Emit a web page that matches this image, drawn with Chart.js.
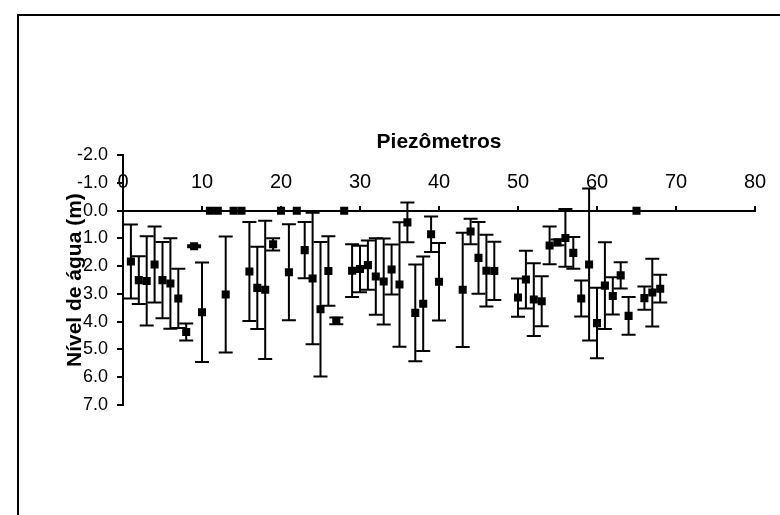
<!DOCTYPE html>
<html>
<head>
<meta charset="utf-8">
<script src="https://cdn.jsdelivr.net/npm/chart.js@4.4.1/dist/chart.umd.min.js"></script>
<style>
  html, body { margin: 0; padding: 0; background: #fff; }
</style>
</head>
<body>
<canvas id="levelChart" width="780" height="515"></canvas>
<script>
  // piezometer number, mean water level (m) and +/- deviation (m)
  const piezometers = [1, 2, 3, 4, 5, 6, 7, 8, 9, 10, 11, 12, 13, 14, 15, 16, 17, 18, 19, 20,
    21, 22, 23, 24, 25, 26, 27, 28, 29, 30, 31, 32, 33, 34, 35, 36, 37, 38, 39, 40,
    43, 44, 45, 46, 47, 50, 51, 52, 53, 54, 55, 56, 57, 58, 59, 60, 61, 62, 63, 64,
    65, 66, 67, 68];
  const levels = [1.83, 2.50, 2.53, 1.94, 2.50, 2.62, 3.16, 4.37, 1.28, 3.66, 0, 0, 3.02, 0, 0, 2.19, 2.78, 2.85, 1.21, 0,
    2.22, 0, 1.42, 2.44, 3.55, 2.17, 3.97, 0, 2.16, 2.10, 1.96, 2.37, 2.55, 2.12, 2.66, 0.42, 3.68, 3.35, 0.85, 2.56,
    2.85, 0.75, 1.70, 2.16, 2.17, 3.13, 2.48, 3.20, 3.26, 1.25, 1.14, 0.98, 1.52, 3.16, 1.94, 4.05, 2.70, 3.07, 2.33, 3.79,
    0, 3.15, 2.95, 2.81];
  const deviations = [1.33, 0.86, 1.61, 1.37, 1.37, 1.63, 1.07, 0.31, 0.04, 1.79, 0, 0, 2.09, 0, 0, 1.78, 1.48, 2.49, 0.22, 0,
    1.73, 0, 1.01, 2.37, 2.42, 1.25, 0.12, 0, 0.95, 0.84, 0.89, 1.38, 1.55, 0.90, 2.24, 0.72, 1.74, 1.70, 0.64, 1.40,
    2.06, 0.46, 1.29, 1.29, 1.05, 0.69, 1.04, 1.31, 0.90, 0.68, 0.10, 1.04, 0.57, 0.65, 2.74, 1.27, 1.56, 0.67, 0.47, 0.68,
    0, 0.42, 1.22, 0.50];

  Chart.defaults.font.family = '"Liberation Sans", Arial, sans-serif';
  Chart.defaults.color = '#000';

  // vertical error bars with caps
  const errorBars = {
    id: 'errorBars',
    beforeDatasetsDraw(chart) {
      const { ctx, scales: { x, y } } = chart;
      ctx.save();
      ctx.strokeStyle = '#000';
      ctx.lineWidth = 2;
      piezometers.forEach((p, i) => {
        if (!deviations[i]) return;
        const px = x.getPixelForValue(p);
        const top = y.getPixelForValue(levels[i] - deviations[i]);
        const bot = y.getPixelForValue(levels[i] + deviations[i]);
        ctx.beginPath();
        ctx.moveTo(px, top); ctx.lineTo(px, bot);
        ctx.moveTo(px - 7, top); ctx.lineTo(px + 7, top);
        ctx.moveTo(px - 7, bot); ctx.lineTo(px + 7, bot);
        ctx.stroke();
      });
      ctx.restore();
    }
  };

  // outer frame of the chart
  const frame = {
    id: 'frame',
    afterDraw(chart) {
      const ctx = chart.ctx;
      ctx.save();
      ctx.strokeStyle = '#000';
      ctx.lineWidth = 2;
      ctx.strokeRect(18, 15, 800, 600);
      ctx.restore();
    }
  };

  const ctx = document.getElementById('levelChart').getContext('2d');
  const levelChart = new Chart(ctx, {
    type: 'scatter',
    data: {
      datasets: [{
        data: piezometers.map((p, i) => ({ x: p, y: levels[i] })),
        pointStyle: 'rect',
        pointRadius: 5.7,
        pointHoverRadius: 5.7,
        backgroundColor: '#000',
        borderColor: '#000',
        borderWidth: 0
      }]
    },
    options: {
      responsive: false,
      animation: false,
      layout: { padding: { left: 59, right: 25, top: 126, bottom: 110 } },
      plugins: {
        legend: { display: false },
        tooltip: { enabled: false },
        title: {
          display: true,
          text: 'Piezômetros',
          fullSize: false,
          font: { size: 21, weight: 'bold' },
          padding: { top: 4, bottom: 0 }
        }
      },
      scales: {
        x: {
          type: 'linear',
          position: { y: 0 },
          min: 0,
          max: 80,
          ticks: { stepSize: 10, font: { size: 20 }, padding: -34, maxRotation: 0 },
          grid: { drawOnChartArea: false, tickLength: -6, color: '#000', lineWidth: 2 },
          border: { color: '#000', width: 2 }
        },
        y: {
          position: 'left',
          reverse: true,
          min: -2,
          max: 7,
          afterFit: (scale) => { scale.width = 64; },
          ticks: { stepSize: 1, font: { size: 18 }, padding: 9, callback: (v) => v.toFixed(1) },
          grid: { drawOnChartArea: false, tickLength: 6, color: '#000', lineWidth: 2 },
          border: { color: '#000', width: 2 },
          title: {
            display: true,
            text: 'Nível de água (m)',
            font: { size: 21, weight: 'bold' },
            padding: { top: 4, bottom: 4 }
          }
        }
      }
    },
    plugins: [errorBars, frame]
  });
</script>
</body>
</html>
